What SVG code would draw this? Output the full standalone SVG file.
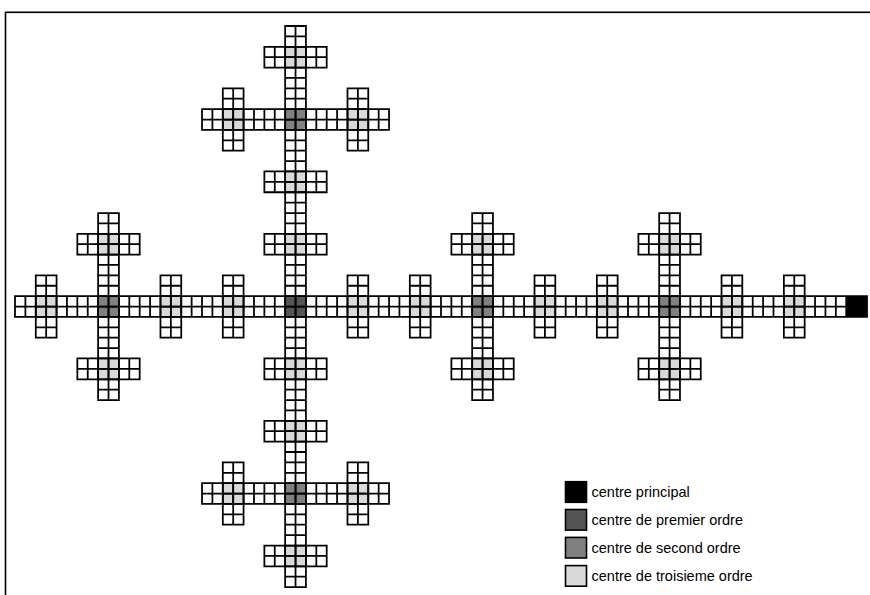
<svg xmlns="http://www.w3.org/2000/svg" xmlns:xlink="http://www.w3.org/1999/xlink" width="870" height="595" viewBox="0 0 870 595">
<style>
.grid{fill:none;stroke:#000;stroke-width:.17;stroke-linecap:square}
.l{fill:#d9d9d9}
.g2{fill:#808080}
.g1{fill:#555555}
.g0{fill:#000000}
.key{stroke:#000;stroke-width:1.6}
.lt{font-family:"Liberation Sans",Arial,sans-serif;font-size:14.5px;fill:#000}
</style>
<defs>
<path id="h6" d="M0 0H6M0 1H6M0 2H6M0 0V2m1-2v2m1-2v2m1-2v2m1-2v2m1-2v2m1-2v2"/>
<path id="v6" d="M0 0V6M1 0V6M2 0V6M0 0H2m-2 1h2m-2 1h2m-2 1h2m-2 1h2m-2 1h2m-2 1h2"/>
<path id="h18" d="M0 0H18M0 1H18M0 2H18M0 0V2m1-2v2m1-2v2m1-2v2m1-2v2m1-2v2m1-2v2m1-2v2m1-2v2m1-2v2m1-2v2m1-2v2m1-2v2m1-2v2m1-2v2m1-2v2m1-2v2m1-2v2m1-2v2"/>
<path id="v18" d="M0 0V18M1 0V18M2 0V18M0 0H2m-2 1h2m-2 1h2m-2 1h2m-2 1h2m-2 1h2m-2 1h2m-2 1h2m-2 1h2m-2 1h2m-2 1h2m-2 1h2m-2 1h2m-2 1h2m-2 1h2m-2 1h2m-2 1h2m-2 1h2m-2 1h2"/>
</defs>
<rect x="0" y="0" width="870" height="595" fill="#fff"/>
<rect id="frame" x="5.5" y="12.3" width="880" height="600" fill="none" stroke="#000" stroke-width="1.6"/>
<g transform="translate(15,26) scale(10.3902)">
<g id="centres">
<rect id="centre-principal" class="g0" x="80" y="26" width="2" height="2"/>
<rect id="centre-premier" class="g1" x="26" y="26" width="2" height="2"/>
<g id="centres-second">
<rect class="g2" x="8" y="26" width="2" height="2"/>
<rect class="g2" x="44" y="26" width="2" height="2"/>
<rect class="g2" x="62" y="26" width="2" height="2"/>
<rect class="g2" x="26" y="8" width="2" height="2"/>
<rect class="g2" x="26" y="44" width="2" height="2"/>
</g>
<g id="centres-troisieme">
<rect class="l" x="2" y="26" width="2" height="2"/>
<rect class="l" x="14" y="26" width="2" height="2"/>
<rect class="l" x="20" y="26" width="2" height="2"/>
<rect class="l" x="32" y="26" width="2" height="2"/>
<rect class="l" x="38" y="26" width="2" height="2"/>
<rect class="l" x="50" y="26" width="2" height="2"/>
<rect class="l" x="56" y="26" width="2" height="2"/>
<rect class="l" x="68" y="26" width="2" height="2"/>
<rect class="l" x="74" y="26" width="2" height="2"/>
<rect class="l" x="26" y="2" width="2" height="2"/>
<rect class="l" x="26" y="14" width="2" height="2"/>
<rect class="l" x="26" y="20" width="2" height="2"/>
<rect class="l" x="26" y="32" width="2" height="2"/>
<rect class="l" x="26" y="38" width="2" height="2"/>
<rect class="l" x="26" y="50" width="2" height="2"/>
<rect class="l" x="8" y="20" width="2" height="2"/>
<rect class="l" x="8" y="32" width="2" height="2"/>
<rect class="l" x="44" y="20" width="2" height="2"/>
<rect class="l" x="44" y="32" width="2" height="2"/>
<rect class="l" x="62" y="20" width="2" height="2"/>
<rect class="l" x="62" y="32" width="2" height="2"/>
<rect class="l" x="20" y="8" width="2" height="2"/>
<rect class="l" x="32" y="8" width="2" height="2"/>
<rect class="l" x="20" y="44" width="2" height="2"/>
<rect class="l" x="32" y="44" width="2" height="2"/>
</g>
</g>
<g id="connectors" class="grid">
<path id="axe-horizontal" d="M0 26H82M0 27H82M0 28H82M0 26V28m1-2v2m1-2v2m1-2v2m1-2v2m1-2v2m1-2v2m1-2v2m1-2v2m1-2v2m1-2v2m1-2v2m1-2v2m1-2v2m1-2v2m1-2v2m1-2v2m1-2v2m1-2v2m1-2v2m1-2v2m1-2v2m1-2v2m1-2v2m1-2v2m1-2v2m1-2v2m1-2v2m1-2v2m1-2v2m1-2v2m1-2v2m1-2v2m1-2v2m1-2v2m1-2v2m1-2v2m1-2v2m1-2v2m1-2v2m1-2v2m1-2v2m1-2v2m1-2v2m1-2v2m1-2v2m1-2v2m1-2v2m1-2v2m1-2v2m1-2v2m1-2v2m1-2v2m1-2v2m1-2v2m1-2v2m1-2v2m1-2v2m1-2v2m1-2v2m1-2v2m1-2v2m1-2v2m1-2v2m1-2v2m1-2v2m1-2v2m1-2v2m1-2v2m1-2v2m1-2v2m1-2v2m1-2v2m1-2v2m1-2v2m1-2v2m1-2v2m1-2v2m1-2v2m1-2v2m1-2v2m1-2v2m1-2v2m1-2v2"/>
<path id="axe-vertical" d="M26 0V54M27 0V54M28 0V54M26 0H28m-2 1h2m-2 1h2m-2 1h2m-2 1h2m-2 1h2m-2 1h2m-2 1h2m-2 1h2m-2 1h2m-2 1h2m-2 1h2m-2 1h2m-2 1h2m-2 1h2m-2 1h2m-2 1h2m-2 1h2m-2 1h2m-2 1h2m-2 1h2m-2 1h2m-2 1h2m-2 1h2m-2 1h2m-2 1h2m-2 1h2m-2 1h2m-2 1h2m-2 1h2m-2 1h2m-2 1h2m-2 1h2m-2 1h2m-2 1h2m-2 1h2m-2 1h2m-2 1h2m-2 1h2m-2 1h2m-2 1h2m-2 1h2m-2 1h2m-2 1h2m-2 1h2m-2 1h2m-2 1h2m-2 1h2m-2 1h2m-2 1h2m-2 1h2m-2 1h2m-2 1h2m-2 1h2m-2 1h2"/>
<g id="croix-second-horizontal">
<use xlink:href="#v18" x="8" y="18"/>
<use xlink:href="#h6" x="6" y="20"/>
<use xlink:href="#h6" x="6" y="32"/>
<use xlink:href="#v18" x="44" y="18"/>
<use xlink:href="#h6" x="42" y="20"/>
<use xlink:href="#h6" x="42" y="32"/>
<use xlink:href="#v18" x="62" y="18"/>
<use xlink:href="#h6" x="60" y="20"/>
<use xlink:href="#h6" x="60" y="32"/>
</g>
<g id="croix-second-vertical">
<use xlink:href="#h18" x="18" y="8"/>
<use xlink:href="#v6" x="20" y="6"/>
<use xlink:href="#v6" x="32" y="6"/>
<use xlink:href="#h18" x="18" y="44"/>
<use xlink:href="#v6" x="20" y="42"/>
<use xlink:href="#v6" x="32" y="42"/>
</g>
<g id="croix-troisieme-horizontal">
<use xlink:href="#v6" x="2" y="24"/>
<use xlink:href="#v6" x="14" y="24"/>
<use xlink:href="#v6" x="20" y="24"/>
<use xlink:href="#v6" x="32" y="24"/>
<use xlink:href="#v6" x="38" y="24"/>
<use xlink:href="#v6" x="50" y="24"/>
<use xlink:href="#v6" x="56" y="24"/>
<use xlink:href="#v6" x="68" y="24"/>
<use xlink:href="#v6" x="74" y="24"/>
</g>
<g id="croix-troisieme-vertical">
<use xlink:href="#h6" x="24" y="2"/>
<use xlink:href="#h6" x="24" y="14"/>
<use xlink:href="#h6" x="24" y="20"/>
<use xlink:href="#h6" x="24" y="32"/>
<use xlink:href="#h6" x="24" y="38"/>
<use xlink:href="#h6" x="24" y="50"/>
</g>
</g>
</g>
<g id="legend">
<g id="key-principal"><rect class="key g0" x="565.5" y="481.7" width="21" height="20.6"/><text class="lt" x="591.5" y="497">centre principal</text></g>
<g id="key-premier"><rect class="key g1" x="565.5" y="509.5" width="21" height="20.6"/><text class="lt" x="591.5" y="525">centre de premier ordre</text></g>
<g id="key-second"><rect class="key g2" x="565.5" y="537.4" width="21" height="20.6"/><text class="lt" x="591.5" y="553">centre de second ordre</text></g>
<g id="key-troisieme"><rect class="key l" x="565.5" y="565.6" width="21" height="20.6"/><text class="lt" x="591.5" y="581">centre de troisieme ordre</text></g>
</g>
</svg>
